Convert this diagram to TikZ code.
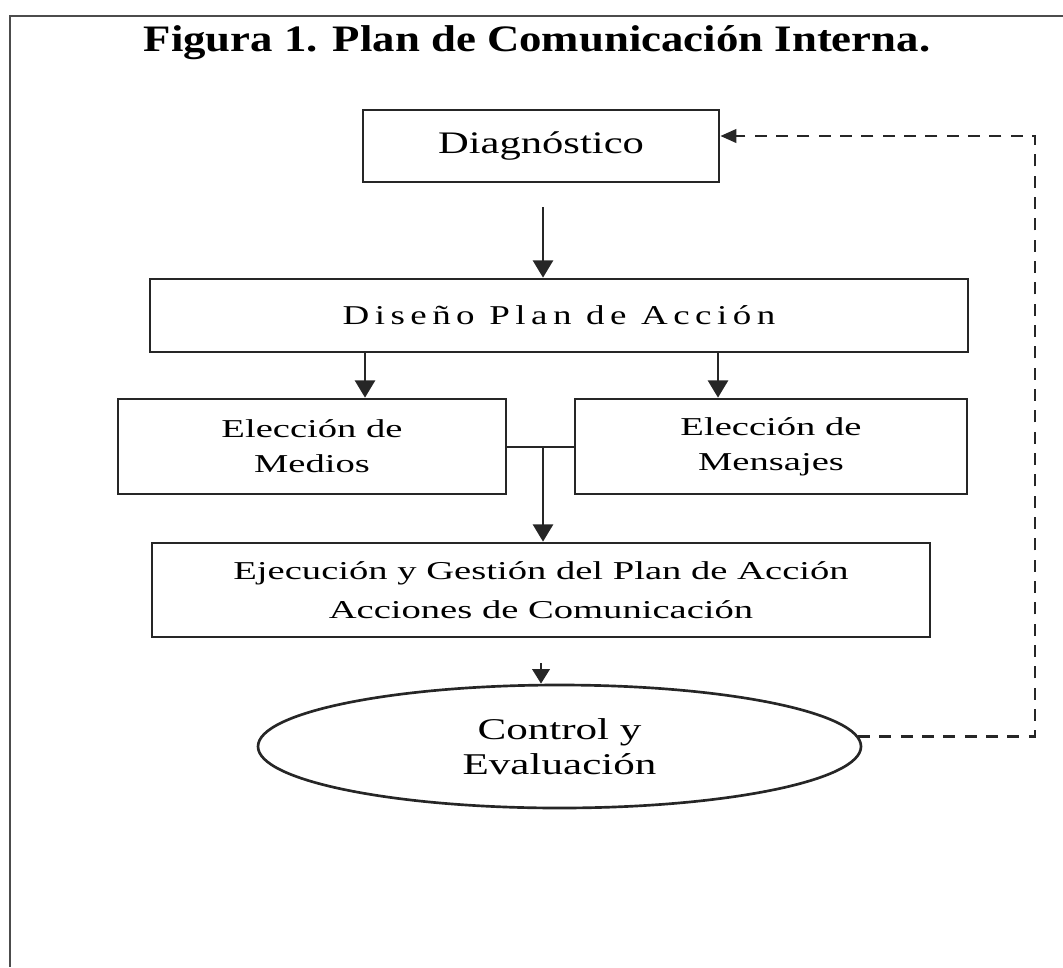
\documentclass[tikz,border=0pt]{standalone}
\usepackage{fontspec}
\setmainfont{Liberation Serif}
\newfontfamily\titlefont[FakeStretch=1.2]{Liberation Serif}
\newfontfamily\diagfont[FakeStretch=1.36]{Liberation Serif}
\newfontfamily\planfont[FakeStretch=1.36,LetterSpace=20]{Liberation Serif}
\newfontfamily\boxfont[FakeStretch=1.5]{Liberation Serif}
\newfontfamily\ovalfont[FakeStretch=1.43]{Liberation Serif}
\usetikzlibrary{shapes.geometric,arrows.meta}

\tikzset{
  stagebox/.style={draw=black!85, line width=2pt, rectangle, inner sep=0pt, align=center},
  flow/.style={draw=black!85, line width=2.2pt, -{Triangle[length=13pt,width=15pt]}},
  smallflow/.style={draw=black!85, line width=2.2pt, -{Triangle[length=11pt,width=13pt]}},
  feedback/.style={draw=black!85, line width=2.2pt, dash pattern=on 9pt off 7pt, -{Triangle[length=12pt,width=10pt]}},
  frame/.style={draw=black!70, line width=2pt}
}

\begin{document}
\begin{tikzpicture}[x=0.75pt, y=-0.75pt]
  \useasboundingbox (0,0) rectangle (1063,967);

  % page frame (top and left edges only)
  \coordinate (frameTL) at (10,16);
  \coordinate (frameTR) at (1063,16);
  \coordinate (frameBL) at (10,967);
  \draw[frame] (frameTR) -- (frameTL) -- (frameBL);

  % title
  \node[font={\titlefont\bfseries\fontsize{28pt}{30pt}\selectfont}] (title) at (537,43)
    {Figura 1. Plan de Comunicación Interna.};

  % stages
  \node[stagebox, minimum width=356*0.75pt, minimum height=72*0.75pt,
        font={\diagfont\fontsize{23.5pt}{26pt}\selectfont}] (diag) at (541,146)
    {Diagnóstico};
  \node[stagebox, minimum width=818*0.75pt, minimum height=73*0.75pt,
        font={\planfont\fontsize{20.4pt}{24pt}\selectfont}] (plan) at (559,315.5)
    {Diseño Plan de Acción};
  \node[stagebox, minimum width=388*0.75pt, minimum height=95*0.75pt,
        font={\boxfont\fontsize{19.3pt}{26.3pt}\selectfont}] (medios) at (312,446.5)
    {Elección de\\Medios};
  \node[stagebox, minimum width=392*0.75pt, minimum height=95*0.75pt,
        font={\boxfont\fontsize{19.3pt}{26.3pt}\selectfont}] (mensajes) at (771,446.5)
    {Elección de\\Mensajes};
  \node[stagebox, minimum width=778*0.75pt, minimum height=94*0.75pt,
        font={\boxfont\fontsize{19.3pt}{29.3pt}\selectfont}] (ejec) at (541,590)
    {Ejecución y Gestión del Plan de Acción\\Acciones de Comunicación};
  \node[ellipse, draw=black!85, line width=2pt, inner sep=0pt, align=center,
        minimum width=603*0.75pt, minimum height=123*0.75pt,
        font={\ovalfont\fontsize{22.6pt}{26.3pt}\selectfont}] (ctrl) at (559.5,746.5)
    {Control y\\Evaluación};

  % connectors
  \coordinate (diagOut) at (543,207);
  \draw[flow] (diagOut) -- (diagOut |- plan.north);
  \coordinate (toMedios) at (365,0);
  \coordinate (toMensajes) at (718,0);
  \draw[flow] (toMedios |- plan.south) -- (toMedios |- medios.north);
  \draw[flow] (toMensajes |- plan.south) -- (toMensajes |- mensajes.north);

  \coordinate (join) at (543,447);
  \draw[draw=black!85, line width=2.2pt] (medios.east |- join) -- (mensajes.west |- join);
  \draw[flow] (join) -- (join |- ejec.north);

  \coordinate (ejecOut) at (541,663);
  \draw[smallflow] (ejecOut) -- (ejecOut |- ctrl.north);

  % feedback loop
  \coordinate (fbBottom) at (1035,735);
  \coordinate (fbTop) at (1035,136);
  \draw[feedback] (ctrl.2) -- (ctrl.2 -| fbBottom) -- (fbTop) -- (fbTop -| diag.east);
\end{tikzpicture}
\end{document}
